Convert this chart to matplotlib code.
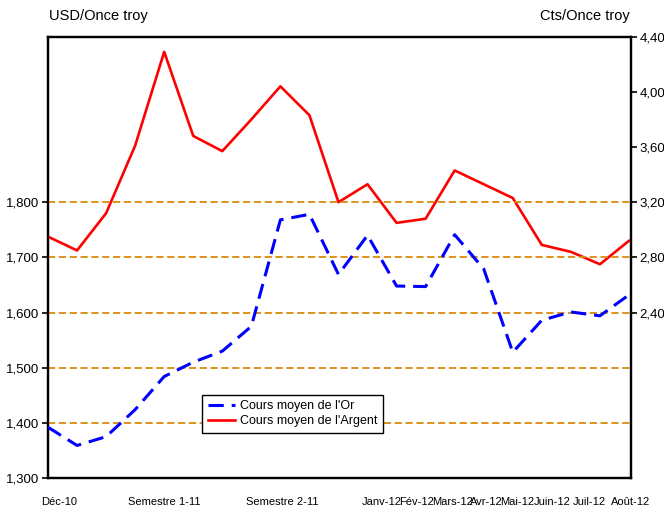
import matplotlib
matplotlib.use("Agg")
import matplotlib.pyplot as plt
from matplotlib.lines import Line2D
from matplotlib.ticker import FuncFormatter

plt.rcParams["font.family"] = ["Liberation Sans", "DejaVu Sans"]

# monthly averages: Déc-10, Janv-11 .. Déc-11, Janv-12 .. Août-12
gold = [1392, 1359, 1375, 1424, 1484, 1510, 1530, 1575, 1768, 1778, 1669,
        1740, 1648, 1647, 1741, 1679, 1528, 1586, 1601, 1594, 1632]
silver = [2.95, 2.85, 3.12, 3.61, 4.29, 3.68, 3.57, 3.80, 4.04, 3.83, 3.20,
          3.33, 3.05, 3.08, 3.43, 3.33, 3.23, 2.89, 2.84, 2.75, 2.92]

x_labels = ["Déc-10", "Semestre 1-11", "Semestre 2-11", "Janv-12", "Fév-12",
            "Mars-12", "Avr-12", "Mai-12", "Juin-12", "Juil-12", "Août-12"]
x_label_pos = [0.38, 4.01, 8.06, 11.49, 12.69, 13.93, 15.09, 16.16, 17.36, 18.63, 20.07]

left_ticks = [1300, 1400, 1500, 1600, 1700, 1800]
grid_levels = [1400, 1500, 1600, 1700, 1800]
right_ticks = [2.40, 2.80, 3.20, 3.60, 4.00, 4.40]

fig = plt.figure(figsize=(6.64, 5.15), dpi=100)
ax = fig.add_axes([0.0723, 0.0718, 0.878, 0.857])
ax2 = ax.twinx()

x = list(range(len(gold)))
for lvl in grid_levels:
    ax.axhline(lvl, color="#DA8A0A", lw=1.3, ls=(0, (4, 2)), zorder=1)

ax.plot(x, gold, color="#0000FF", lw=2.2, ls=(0, (5, 2.6)), zorder=3)
ax2.plot(x, silver, color="#FF0000", lw=1.9, zorder=3)

ax.set_xlim(0, len(gold) - 1)
ax.set_ylim(1300, 2100)
ax2.set_ylim(1.20, 4.40)

ax.set_yticks(left_ticks)
ax.yaxis.set_major_formatter(FuncFormatter(lambda v, p: f"{v:,.0f}"))
ax2.set_yticks(right_ticks)
ax2.yaxis.set_major_formatter(FuncFormatter(lambda v, p: f"{v:.2f}".replace(".", ",")))

ax.set_xticks(x_label_pos)
ax.set_xticklabels(x_labels)
ax.tick_params(axis="x", length=0, pad=14, labelsize=8)
ax.tick_params(axis="y", direction="out", length=4, width=1.2, labelsize=9.5, pad=2)
ax2.tick_params(axis="y", direction="out", length=4, width=1.2, labelsize=9.5, pad=2)

for a in (ax, ax2):
    for s in a.spines.values():
        s.set_linewidth(1.6)
        s.set_color("black")

fig.text(0.0738, 0.968, "USD/Once troy", fontsize=10.5, ha="left", va="center")
fig.text(0.948, 0.968, "Cts/Once troy", fontsize=10.5, ha="right", va="center")

handles = [Line2D([], [], color="#0000FF", lw=2.2, ls=(0, (5, 2.6))),
           Line2D([], [], color="#FF0000", lw=1.9)]
leg = ax.legend(handles, ["Cours moyen de l'Or", "Cours moyen de l'Argent"],
                loc="lower left", bbox_to_anchor=(0.264, 0.102), fontsize=9,
                frameon=True, fancybox=False, framealpha=1, edgecolor="black",
                borderpad=0.45, labelspacing=0.25, handlelength=2.2,
                handletextpad=0.4, borderaxespad=0)
leg.get_frame().set_linewidth(1.0)
leg.set_zorder(5)
ax.set_zorder(ax2.get_zorder() + 1)
ax.patch.set_visible(False)

fig.savefig("out.png", dpi=100)
